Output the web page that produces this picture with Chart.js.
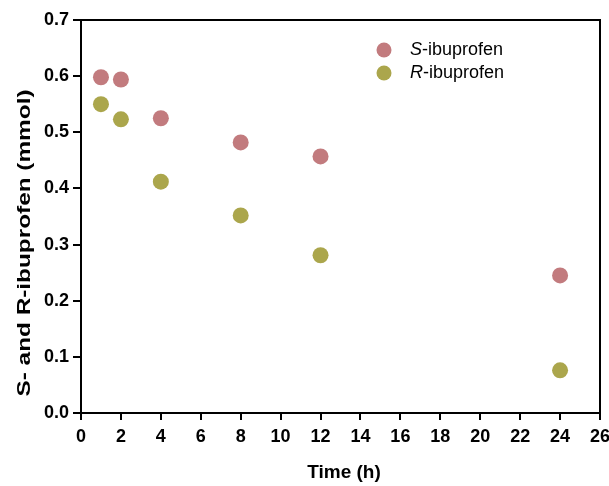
<!DOCTYPE html>
<html>
<head>
<meta charset="utf-8">
<script src="https://cdn.jsdelivr.net/npm/chart.js@4"></script>
<style>
  html, body { margin: 0; padding: 0; background: #fff; }
  #wrap { width: 609px; height: 486px; position: relative; }
</style>
</head>
<body>
<div id="wrap"><canvas id="c" width="609" height="486"></canvas></div>
<script>
const timePoints = [1, 2, 4, 8, 12, 24];
const sIbuprofen = [0.598, 0.594, 0.525, 0.482, 0.457, 0.245];
const rIbuprofen = [0.550, 0.523, 0.412, 0.352, 0.281, 0.076];
const seriesNames = ['S', 'R'];
const xTitle = 'Time (h)';
const yTitle = 'S- and R-ibuprofen (mmol)';

const sColor = '#c27b7e';
const rColor = '#aba64c';
const FONT = 'Liberation Sans, Arial, sans-serif';

const framePlugin = {
  id: 'frame',
  afterDatasetsDraw(chart) {
    const {ctx, chartArea: a} = chart;
    ctx.save();
    ctx.strokeStyle = '#000';
    ctx.lineWidth = 2;
    ctx.beginPath();
    ctx.moveTo(a.left, a.top);
    ctx.lineTo(a.right, a.top);
    ctx.lineTo(a.right, a.bottom);
    ctx.stroke();
    ctx.restore();
  }
};

const titlesPlugin = {
  id: 'titles',
  afterDraw(chart) {
    const {ctx} = chart;
    ctx.save();
    ctx.fillStyle = '#000';
    ctx.textAlign = 'center';
    ctx.textBaseline = 'middle';
    ctx.font = 'bold 19px ' + FONT;
    ctx.fillText(xTitle, 344, 473);
    ctx.font = 'bold 18px ' + FONT;
    const w = ctx.measureText(yTitle).width;
    const sx = 307 / w;
    ctx.translate(25, 243);
    ctx.rotate(-Math.PI / 2);
    ctx.scale(sx, 1);
    ctx.fillText(yTitle, 0, 0);
    ctx.restore();
  }
};

const legendPlugin = {
  id: 'customLegend',
  afterDraw(chart) {
    const {ctx} = chart;
    const items = [
      {letter: seriesNames[0], rest: '-ibuprofen', color: sColor, y: 50},
      {letter: seriesNames[1], rest: '-ibuprofen', color: rColor, y: 73}
    ];
    ctx.save();
    items.forEach(it => {
      ctx.fillStyle = it.color;
      ctx.beginPath();
      ctx.arc(384, it.y, 7.5, 0, Math.PI * 2);
      ctx.fill();
      ctx.fillStyle = '#000';
      ctx.textBaseline = 'middle';
      ctx.textAlign = 'left';
      ctx.font = 'italic 18px ' + FONT;
      ctx.fillText(it.letter, 410, it.y);
      const w = ctx.measureText(it.letter).width;
      ctx.font = '18px ' + FONT;
      ctx.fillText(it.rest, 410 + w, it.y);
    });
    ctx.restore();
  }
};

const toXY = (xs, ys) => xs.map((x, i) => ({x, y: ys[i]}));

new Chart(document.getElementById('c'), {
  type: 'scatter',
  data: {
    datasets: [
      {label: 'S-ibuprofen', data: toXY(timePoints, sIbuprofen), backgroundColor: sColor, borderWidth: 0, pointRadius: 8, pointHoverRadius: 8},
      {label: 'R-ibuprofen', data: toXY(timePoints, rIbuprofen), backgroundColor: rColor, borderWidth: 0, pointRadius: 8, pointHoverRadius: 8}
    ]
  },
  options: {
    responsive: false,
    animation: false,
    events: [],
    layout: {padding: {top: 20, right: 9, left: 0, bottom: 0}},
    plugins: {legend: {display: false}, tooltip: {enabled: false}},
    scales: {
      x: {
        type: 'linear', min: 0, max: 26,
        afterFit(s) { s.height = 73; s.paddingRight = 0; s.paddingLeft = 0; },
        ticks: {stepSize: 2, color: '#000', font: {family: FONT, size: 18, weight: 'bold'}, padding: 6, maxRotation: 0},
        grid: {drawOnChartArea: false, drawTicks: true, tickLength: 7, color: '#000', lineWidth: 2},
        border: {color: '#000', width: 2},
        title: {display: false}
      },
      y: {
        type: 'linear', min: 0, max: 0.7,
        afterFit(s) { s.width = 81; s.paddingTop = 0; s.paddingBottom = 0; },
        ticks: {stepSize: 0.1, color: '#000', callback: v => v.toFixed(1), font: {family: FONT, size: 18, weight: 'bold'}, padding: 4},
        grid: {drawOnChartArea: false, drawTicks: true, tickLength: 8, color: '#000', lineWidth: 2},
        border: {color: '#000', width: 2},
        title: {display: false}
      }
    }
  },
  plugins: [framePlugin, titlesPlugin, legendPlugin]
});
</script>
</body>
</html>
